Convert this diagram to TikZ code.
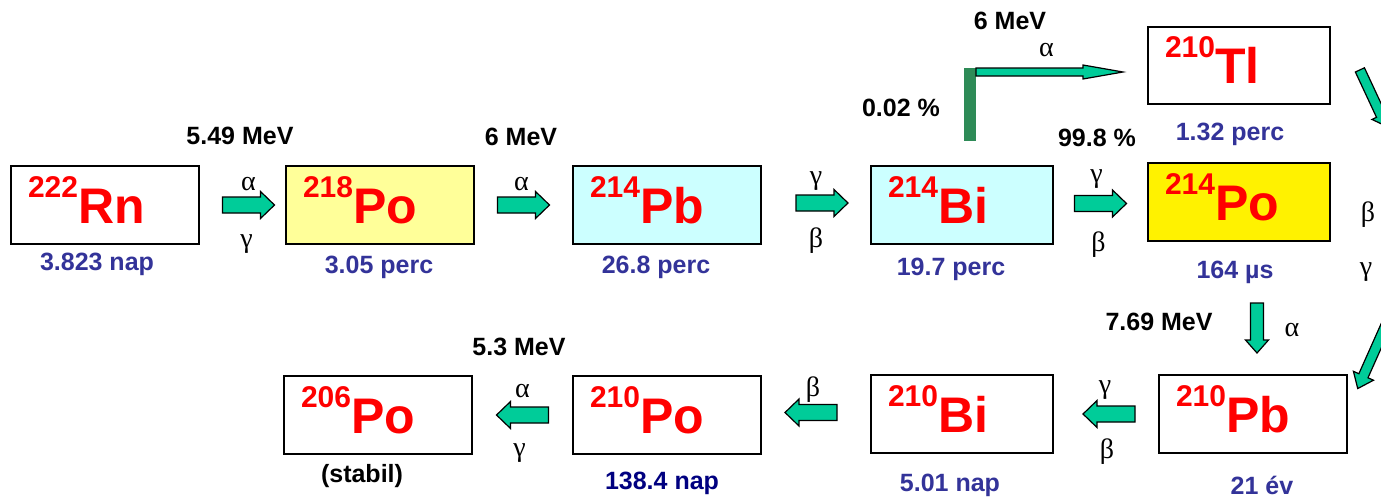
\documentclass[tikz,border=0pt]{standalone}
\usepackage{fontspec}
\setmainfont{Liberation Sans}
\newfontfamily\greekfont{Liberation Serif}
\usetikzlibrary{calc}

\definecolor{arrowgreen}{HTML}{00CC99}
\definecolor{bargreen}{HTML}{2E8B57}
\definecolor{timeblue}{HTML}{333399}
\definecolor{navyblue}{HTML}{000080}
\definecolor{paleyellow}{HTML}{FFFF99}
\definecolor{palecyan}{HTML}{CCFFFF}

% mass number raised before the element symbol
\newcommand{\iso}[2]{\raisebox{26pt}{\fontsize{30}{32}\selectfont #1}\fontsize{50}{60}\selectfont #2}

\tikzset{
  nuclide/.style={draw=black, line width=2pt, minimum height=78pt, inner xsep=17pt,
    text width=154pt, text depth=10pt, align=left, text=red, font=\bfseries, anchor=north west},
  narrow/.style={text width=148pt},
  halflife/.style={font=\bfseries\fontsize{25}{30}\selectfont, text=timeblue},
  energy/.style={font=\bfseries\fontsize{25}{30}\selectfont},
  ray/.style={font=\greekfont\fontsize{28}{30}\selectfont},
  % block arrow: length / shaft / head width / head length
  pics/decay/.style args={#1/#2/#3/#4}{code={
    \filldraw[fill=arrowgreen, draw=black, line width=1.2pt]
      (-#1/2,-#2/2) -- (#1/2-#4,-#2/2) -- (#1/2-#4,-#3/2) -- (#1/2,0)
      -- (#1/2-#4,#3/2) -- (#1/2-#4,#2/2) -- (-#1/2,#2/2) -- cycle;
  }},
}

\begin{document}
\begin{tikzpicture}[x=1pt, y=-1pt]
    \useasboundingbox (0,0) rectangle (1381,498);

    % upper row
    \node[nuclide] (rn) at (10,165) {\iso{222}{Rn}};
    \node[nuclide, fill=paleyellow] (po218) at (285,165) {\iso{218}{Po}};
    \node[nuclide, fill=palecyan] (pb214) at (572,165) {\iso{214}{Pb}};
    \node[nuclide, narrow, fill=palecyan] (bi214) at (870,165) {\iso{214}{Bi}};
    \node[nuclide, narrow, fill=yellow] (po214) at (1147,162) {\iso{214}{Po}};
    \node[nuclide, narrow, minimum height=77pt] (tl210) at (1147,26) {\iso{210}{Tl}};

    % lower row
    \node[nuclide] (pb210) at (1158,374) {\iso{210}{Pb}};
    \node[nuclide, narrow] (bi210) at (870,374) {\iso{210}{Bi}};
    \node[nuclide] (po210) at (572,375) {\iso{210}{Po}};
    \node[nuclide] (po206) at (283,375) {\iso{206}{Po}};

    % half-lives
    \node[halflife] at (97,264) {3.823 nap};
    \node[halflife] at (379,267) {3.05 perc};
    \node[halflife] at (656,267) {26.8 perc};
    \node[halflife] at (951,269) {19.7 perc};
    \node[halflife] at (1230,134) {1.32 perc};
    \node[halflife] at (1235,272) {164 µs};
    \node[halflife] at (1262,485) {21 év};
    \node[halflife] at (950,485) {5.01 nap};
    \node[halflife, text=navyblue] at (662,483) {138.4 nap};
    \node[halflife, text=black] at (362,476) {(stabil)};

    % energies and branching
    \node[energy] at (240,136) {5.49 MeV};
    \node[energy] at (521,137) {6 MeV};
    \node[energy] at (1010,21) {6 MeV};
    \node[energy] at (901,108) {0.02 \%};
    \node[energy] at (1097,138) {99.8 \%};
    \node[energy] at (1159,322) {7.69 MeV};
    \node[energy] at (519,347) {5.3 MeV};

    % decay arrows
    \coordinate (a1) at ($(rn.east)!0.5!(po218.west)+(6,0)$);
    \coordinate (a2) at ($(po218.east)!0.5!(pb214.west)$);
    \coordinate (a3) at ($(pb214.east)!0.5!(bi214.west)+(6,-2)$);
    \coordinate (a4) at ($(bi214.east)!0.5!(po214.west)$);
    \coordinate (a5) at (1257,328);
    \coordinate (a6) at ($(pb210.west)!0.5!(bi210.east)+(3,0)$);
    \coordinate (a7) at ($(bi210.west)!0.5!(po210.east)+(-5,-2)$);
    \coordinate (a8) at ($(po210.west)!0.5!(po206.east)$);
    \foreach \a in {a1,a2,a3,a4}
      \pic at (\a) {decay=52/16/27/14};
    \foreach \a in {a6,a7,a8}
      \pic[rotate=180] at (\a) {decay=52/16/27/14};
    \pic[rotate=-90] at (a5) {decay=50/13/23/13};

    \node[ray] at ($(a1)+(0,-21)$) {α};
    \node[ray] at ($(a1)+(-2,39)$) {γ};
    \node[ray] at ($(a2)+(-2,-21)$) {α};
    \node[ray] at ($(a3)+(-6,-22)$) {γ};
    \node[ray] at ($(a3)+(-6,38)$) {β};
    \node[ray] at ($(a4)+(-4,-24)$) {γ};
    \node[ray] at ($(a4)+(-2,41)$) {β};
    \node[ray] at ($(a5)+(35,2)$) {α};
    \node[ray] at ($(a6)+(-4,-24)$) {γ};
    \node[ray] at ($(a6)+(-2,38)$) {β};
    \node[ray] at ($(a7)+(2,-23)$) {β};
    \node[ray] at ($(a8)+(0,-24)$) {α};
    \node[ray] at ($(a8)+(-3,38)$) {γ};
    \node[ray] at (1368,215) {β};
    \node[ray] at (1366,272) {γ};

    % branch to thallium
    \fill[bargreen] (964,68) rectangle (976,141);
    \coordinate (a9) at (1049.5,72);
    \pic at (a9) {decay=147/8/14/40};
    \node[ray] at ($(a9)+(-3,-22)$) {α};

    % arrows leaving the right edge
    \begin{scope}
      \clip (0,0) rectangle (1381,498);
      \pic[rotate=-65] at (1373,98) {decay=62/10/20/12};
      \pic[rotate=-114] at (1374,352) {decay=80/10/22/14};
    \end{scope}
\end{tikzpicture}
\end{document}
